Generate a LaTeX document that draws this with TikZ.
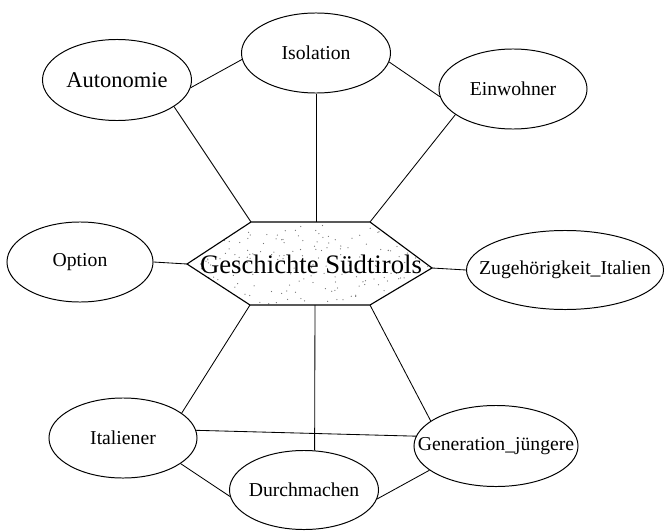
\documentclass[tikz,border=0pt]{standalone}
\usepackage{fontspec}
\setmainfont{Liberation Serif}
\usetikzlibrary{shapes.geometric}

% text that may stick out of its ellipse
\newcommand\nowidth[1]{\makebox[0pt]{#1}}

\begin{document}
\begin{tikzpicture}[
    x=0.025cm, y=-0.025cm,
    every node/.style={font=\fontsize{14}{16}\selectfont},
    topic/.style={draw, ellipse, line width=0.7pt, inner sep=0pt},
    core/.style={font=\fontsize{19}{22}\selectfont},
    link/.style={line width=0.6pt},
]
\useasboundingbox (0,0) rectangle (664,532);

% ---------------------------------------------------------------- hexagon
\coordinate (hL)  at (187,264);
\coordinate (hTL) at (251,222);
\coordinate (hT)  at (316,222);
\coordinate (hTR) at (370,222);
\coordinate (hR)  at (432,268);
\coordinate (hBR) at (370,305);
\coordinate (hB)  at (315,305);
\coordinate (hBL) at (250,305);

% stipple
\begin{scope}
    \clip (hL) -- (hTL) -- (hTR) -- (hR) -- (hBR) -- (hBL) -- cycle;
    \pgfmathsetseed{42}
    \foreach \i in {1,...,220}{
        \pgfmathsetmacro\px{190+240*rnd}
        \pgfmathsetmacro\py{224+80*rnd}
        \fill[black!55] (\px,\py) circle (0.45pt);
    }
\end{scope}
\draw[line width=0.8pt] (hL) -- (hTL) -- (hTR) -- (hR) -- (hBR) -- (hBL) -- cycle;
\node[core] (hist) at (311,264) {Geschichte Südtirols};

% ---------------------------------------------------------------- ellipses
\node[topic, minimum width=3.725cm, minimum height=2.025cm] (auto)  at (117,80)  {\fontsize{16}{18}\selectfont Autonomie};
\node[topic, minimum width=3.725cm, minimum height=2.0cm]   (iso)   at (316,53)  {Isolation};
\node[topic, minimum width=3.7cm,   minimum height=2.0cm]   (einw)  at (513,89)  {Einwohner};
\node[topic, minimum width=3.65cm,  minimum height=2.0cm]   (opt)   at (80,262)  {Option};
\node[topic, minimum width=4.925cm, minimum height=1.975cm] (zug)   at (565,270) {\nowidth{Zugehörigkeit\_Italien}};
\node[topic, minimum width=3.7cm,   minimum height=2.0cm]   (ital)  at (123,438) {Italiener};
\node[topic, minimum width=3.725cm, minimum height=1.975cm] (durch) at (304,490) {\nowidth{Durchmachen}};
\node[topic, minimum width=4.1cm,   minimum height=2.025cm] (gen)   at (496,446) {\nowidth{Generation\_jüngere}};

% ---------------------------------------------------------------- links
\draw[link] (auto.-6)   -- (iso.185);
\draw[link] (iso.-7)    -- (einw.186);
\draw[link] (auto.-25)  -- (hTL);
\draw[link] (iso.south) -- (hT);
\draw[link] (einw.204)  -- (hTR);
\draw[link] (opt.east)  -- (hL);
\draw[link] (hR)        -- (zug.west);
\draw[link] (hBL)       -- (ital.23);
\draw[link] (hB)        -- (durch.75);
\draw[link] (hBR)       -- (gen.159);
\draw[link] (ital.6)    -- (gen.173);
\draw[link] (ital.-24)  -- (durch.185);
\draw[link] (durch.-7)  -- (gen.200);

\end{tikzpicture}
\end{document}
